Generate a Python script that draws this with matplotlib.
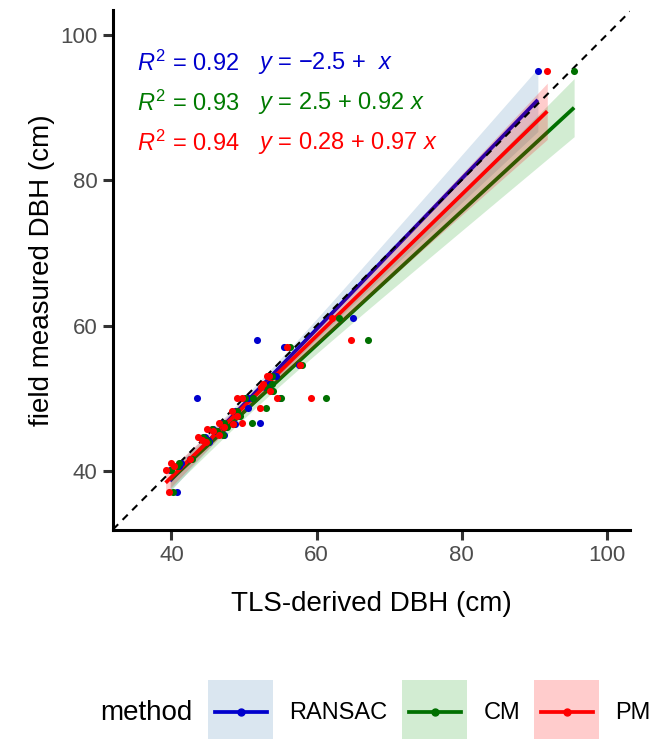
import numpy as np
import matplotlib
matplotlib.use("Agg")
import matplotlib.pyplot as plt
from matplotlib.patches import Rectangle
from matplotlib.lines import Line2D

plt.rcParams['font.family'] = ['Liberation Sans', 'DejaVu Sans']
plt.rcParams['mathtext.fontset'] = 'custom'
plt.rcParams['mathtext.rm'] = 'Liberation Sans'
plt.rcParams['mathtext.it'] = 'Liberation Sans:italic'

# field measured DBH and the three TLS estimates (cm), one entry per tree
field_dbh = [95.0, 61.0, 58.0, 57.0, 54.5, 53.0, 53.0, 52.0, 51.6, 51.0, 50.0, 50.0,
             50.0, 50.0, 48.6, 48.2, 47.5, 46.6, 46.6, 46.4, 46.0, 45.7, 45.5, 45.0,
             44.6, 44.3, 44.0, 41.6, 41.1, 40.7, 40.1, 37.1]
ransac_dbh = [90.5, 65.0, 51.8, 55.5, 57.6, 54.4, 53.9, 53.4, 52.9, 53.8, 43.5, 54.9,
              51.1, 50.5, 50.5, 48.8, 49.3, 52.2, 47.0, 48.8, 47.3, 45.8, 46.1, 47.2,
              44.6, 45.1, 45.2, 42.6, 41.3, 41.0, 39.8, 40.8]
cm_dbh = [95.5, 63.1, 67.1, 56.4, 58.0, 53.8, 53.6, 53.8, 53.0, 54.0, 61.3, 55.1,
          50.2, 51.3, 53.1, 49.0, 49.5, 51.1, 47.2, 48.5, 47.6, 45.6, 46.3, 47.1,
          44.3, 44.8, 45.0, 42.9, 41.1, 40.8, 39.9, 40.2]
pm_dbh = [91.8, 62.2, 64.8, 55.9, 57.7, 53.4, 53.2, 52.6, 52.4, 53.6, 59.2, 54.5,
          49.0, 49.7, 52.2, 48.3, 49.0, 49.7, 46.5, 48.5, 47.2, 44.9, 45.8, 46.6,
          43.7, 44.2, 44.8, 42.5, 39.9, 40.3, 39.2, 39.6]

methods = ['RANSAC', 'CM', 'PM']
r2_labels = ['0.92', '0.93', '0.94']
eq_labels = ['\u22122.5 +  ', '2.5 + 0.92 ', '0.28 + 0.97 ']

line_colors = ['#0000CD', '#007000', '#FF0000']
fill_colors = ['#4682B4', '#22A022', '#FF0000']
text_colors = ['#0000CD', '#007A00', '#FF0000']


def fit_band(x, y, n_grid=100):
    # linear fit with 95% confidence band (like geom_smooth(method = "lm"))
    slope, icpt = np.polyfit(x, y, 1)
    xs = np.linspace(x.min(), x.max(), n_grid)
    fit = icpt + slope * xs
    resid = y - (icpt + slope * x)
    n = len(x)
    s = np.sqrt(np.sum(resid ** 2) / (n - 2))
    sxx = np.sum((x - x.mean()) ** 2)
    se = s * np.sqrt(1 / n + (xs - x.mean()) ** 2 / sxx)
    t = 2.04
    return xs, fit, fit - t * se, fit + t * se


fig = plt.figure(figsize=(6.51, 7.39), dpi=100)
ax = fig.add_axes([113 / 651, 1 - 530 / 739, 517 / 651, 520 / 739])

y = np.array(field_dbh)
xs_all = [np.array(ransac_dbh), np.array(cm_dbh), np.array(pm_dbh)]

for i, x in enumerate(xs_all):
    gx, gfit, lo, hi = fit_band(x, y)
    ax.fill_between(gx, lo, hi, color=fill_colors[i], alpha=0.2, lw=0, zorder=2 + i * 0.1)
    ax.plot(gx, gfit, color=line_colors[i], lw=2.7, zorder=2.05 + i * 0.1,
            solid_capstyle='butt')

ax.axline((40, 40), slope=1, color='black', lw=1.5, dashes=(3.5, 3), zorder=3)

for i, x in enumerate(xs_all):
    ax.scatter(x, y, s=26, color=line_colors[i], lw=0, zorder=4)

# R^2 and equation labels
for i in range(3):
    ty = 0.898 - i * 0.077
    ax.text(0.0464, ty, r'$R^2$ = ' + r2_labels[i], transform=ax.transAxes,
            fontsize=17, color=text_colors[i], va='center', ha='left')
    ax.text(0.2805, ty, r'$y$ = ' + eq_labels[i] + r'$x$', transform=ax.transAxes,
            fontsize=17, color=text_colors[i], va='center', ha='left')

ax.set_xlim(31.95, 103.2)
ax.set_ylim(31.87, 103.4)
ax.set_xticks([40, 60, 80, 100])
ax.set_yticks([40, 60, 80, 100])
for side in ['top', 'right']:
    ax.spines[side].set_visible(False)
for side in ['left', 'bottom']:
    ax.spines[side].set_linewidth(2.2)
    ax.spines[side].set_color('black')
ax.tick_params(length=7, width=2.2, color='#333333', labelsize=16,
               labelcolor='#4d4d4d', pad=4)

ax.set_xlabel('TLS-derived DBH (cm)', fontsize=20)
ax.set_ylabel('field measured DBH (cm)', fontsize=20)
ax.xaxis.set_label_coords(0.5, -0.117)
ax.yaxis.set_label_coords(-0.112, 0.5)

# legend drawn along the bottom
fig.text(100.7 / 651, 1 - 713 / 739, 'method', fontsize=20, va='center', ha='left')
key_left = [208.3, 402.3, 534.3]
label_left = [289, 483.3, 615]
for i in range(3):
    fig.add_artist(Rectangle((key_left[i] / 651, 1 - 750 / 739), 65 / 651, 70 / 739,
                             transform=fig.transFigure, facecolor=fill_colors[i],
                             alpha=0.2, lw=0))
    fig.add_artist(Line2D([(key_left[i] + 6.5) / 651, (key_left[i] + 58.5) / 651],
                          [1 - 712 / 739, 1 - 712 / 739], transform=fig.transFigure,
                          color=line_colors[i], lw=2.7))
    fig.add_artist(Line2D([(key_left[i] + 32.5) / 651], [1 - 712 / 739],
                          transform=fig.transFigure, color=line_colors[i],
                          marker='o', markersize=5, lw=0))
    fig.text(label_left[i] / 651, 1 - 713 / 739, methods[i], fontsize=17,
             va='center', ha='left')

fig.savefig('out.png', dpi=100)
